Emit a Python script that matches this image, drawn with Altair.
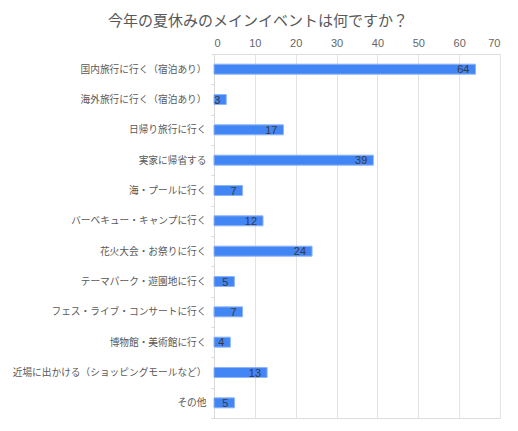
import altair as alt
import pandas as pd

categories = [
    "国内旅行に行く（宿泊あり）",
    "海外旅行に行く（宿泊あり）",
    "日帰り旅行に行く",
    "実家に帰省する",
    "海・プールに行く",
    "バーベキュー・キャンプに行く",
    "花火大会・お祭りに行く",
    "テーマパーク・遊園地に行く",
    "フェス・ライブ・コンサートに行く",
    "博物館・美術館に行く",
    "近場に出かける（ショッピングモールなど）",
    "その他",
]
values = [64, 3, 17, 39, 7, 12, 24, 5, 7, 4, 13, 5]
x_ticks = [0, 10, 20, 30, 40, 50, 60, 70]

df = pd.DataFrame({"category": categories, "value": values})

FONT = "Liberation Sans, Arial, Noto Sans CJK JP, sans-serif"

y_enc = alt.Y(
    "category:N",
    sort=categories,
    title=None,
    scale=alt.Scale(paddingInner=0, paddingOuter=0),
    axis=alt.Axis(
        labelFont=FONT,
        labelFontSize=9.7,
        labelColor="#595959",
        labelPadding=5,
        tickSize=3,
        tickColor="#d9d9d9",
        tickBand="extent",
        domainColor="#d9d9d9",
        labelLimit=260,
    ),
)

x_enc = alt.X(
    "value:Q",
    title=None,
    scale=alt.Scale(domain=[0, 70], nice=False),
    axis=alt.Axis(
        orient="top",
        values=x_ticks,
        labelFont=FONT,
        labelFontSize=11,
        labelColor="#666666",
        labelPadding=6,
        ticks=False,
        domain=False,
        grid=True,
        gridColor="#e3e3e3",
        gridWidth=1,
    ),
)

bars = alt.Chart(df).mark_bar(
    size=10, color="#4285F4", stroke="#8fb5f8", strokeWidth=1
).encode(x=x_enc, y=y_enc)

labels = alt.Chart(df).mark_text(
    align="right", baseline="middle", dx=-6, dy=1, font=FONT, fontSize=11, color="#3a3a3a"
).encode(x="value:Q", y=alt.Y("category:N", sort=categories), text="value:Q")

chart = (
    alt.layer(bars, labels)
    .properties(
        width=286,
        height=364,
        autosize=alt.AutoSizeParams(type="none"),
        padding={"left": 206, "top": 46, "right": 10, "bottom": 5},
        title=alt.TitleParams(
            "今年の夏休みのメインイベントは何ですか？",
            font=FONT,
            fontSize=15,
            fontWeight="normal",
            color="#595959",
            anchor="middle",
            dx=-99,
            offset=8,
        ),
    )
    .configure_view(stroke=None)
    .configure(background="white")
)

chart.save("out.html", embed_options={"renderer": "svg", "actions": False})
